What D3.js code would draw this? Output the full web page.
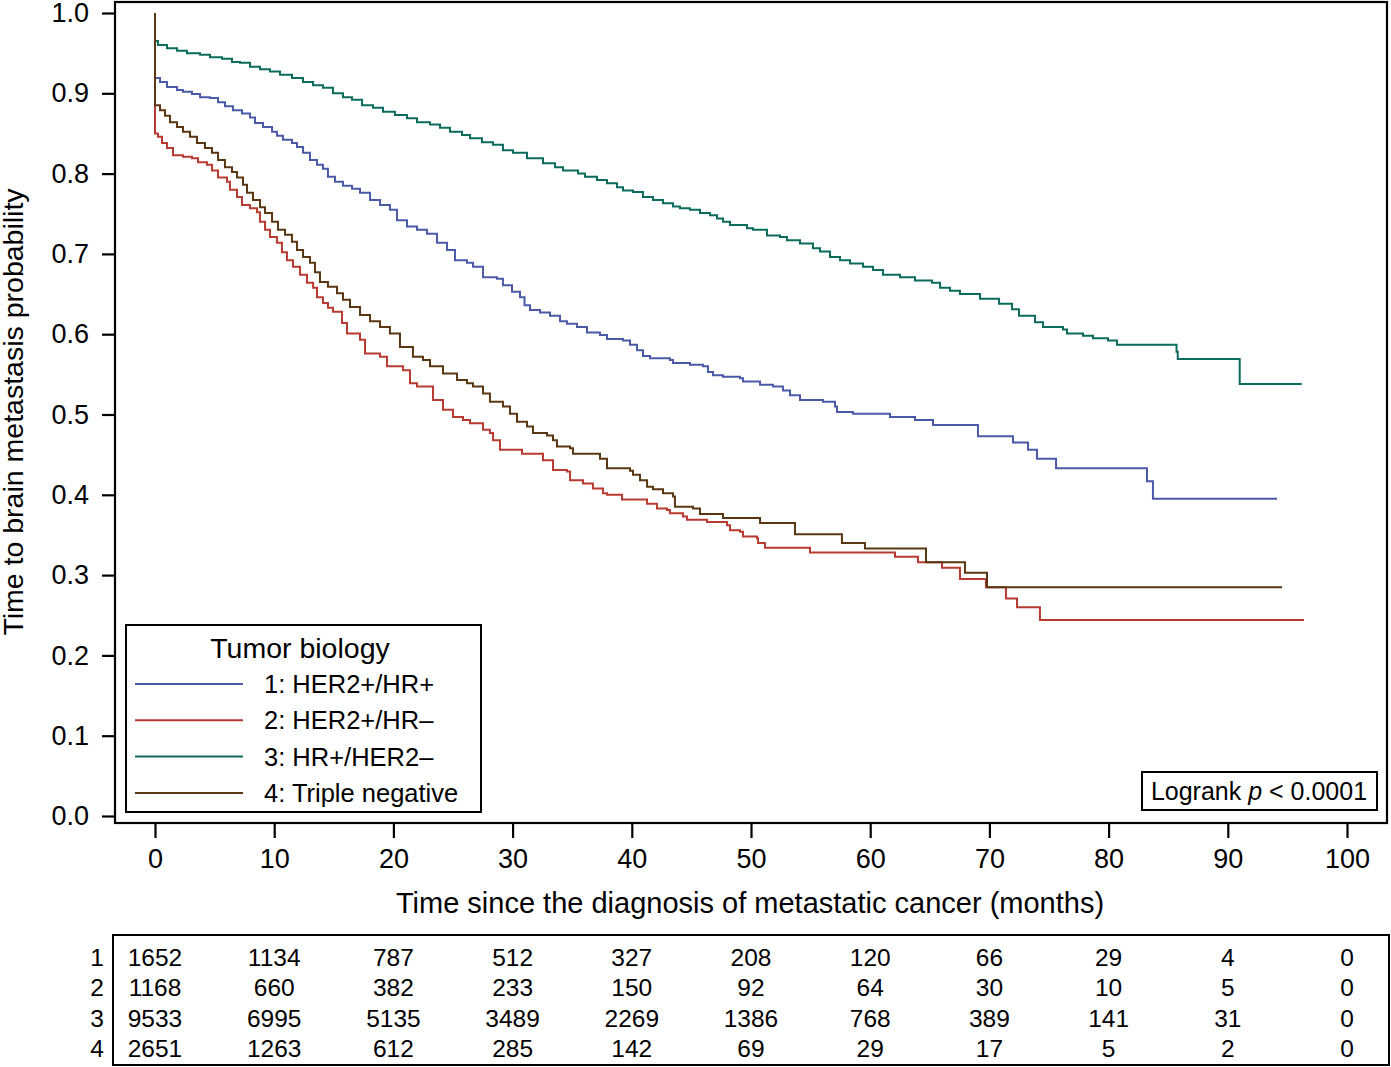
<!DOCTYPE html>
<html><head><meta charset="utf-8">
<script src="https://cdn.jsdelivr.net/npm/d3@7"></script>
<style>body{margin:0;background:#fff;} text{font-family:"Liberation Sans",Arial,Helvetica,sans-serif;}</style>
</head><body>
<svg id="c" width="1391" height="1067"></svg>
<script>
const xTicks = [0,10,20,30,40,50,60,70,80,90,100];
const yTicks = [0,0.1,0.2,0.3,0.4,0.5,0.6,0.7,0.8,0.9,1.0];
const seriesNames = ["1: HER2+/HR+","2: HER2+/HR\u2013","3: HR+/HER2\u2013","4: Triple negative"];
const seriesColors = ["#4a5aa8","#b83a30","#0b6b5c","#5a3712"];

const her2hrPos = [[0,1],[0,0.919],[0.42,0.914],[1.01,0.908],[1.85,0.904],[2.35,0.902],[3.10,0.899],[3.78,0.895],[4.61,0.894],[5.29,0.889],[5.87,0.884],[6.54,0.879],[7.30,0.875],[7.97,0.870],[8.39,0.863],[9.06,0.858],[9.82,0.852],[10.23,0.847],[10.74,0.842],[11.49,0.838],[11.91,0.833],[12.42,0.826],[13.00,0.817],[13.59,0.811],[14.09,0.806],[14.51,0.796],[15.10,0.790],[15.77,0.785],[16.53,0.781],[17.20,0.776],[18.04,0.767],[18.88,0.761],[19.71,0.755],[20.30,0.742],[21.14,0.734],[21.98,0.730],[22.82,0.725],[23.66,0.714],[24.50,0.705],[25.17,0.692],[26.17,0.689],[26.68,0.684],[27.52,0.671],[28.69,0.669],[29.19,0.661],[29.95,0.653],[30.62,0.646],[31.00,0.636],[31.46,0.630],[32.30,0.627],[33.14,0.623],[33.98,0.616],[34.56,0.613],[35.40,0.609],[36.24,0.602],[37.33,0.599],[37.92,0.594],[39.26,0.592],[39.85,0.587],[40.44,0.580],[40.94,0.573],[41.53,0.570],[43.20,0.568],[43.46,0.564],[44.88,0.562],[45.97,0.560],[46.39,0.553],[46.81,0.549],[47.65,0.547],[49.08,0.545],[49.33,0.541],[50.76,0.537],[51.85,0.535],[52.68,0.530],[53.27,0.524],[54.11,0.518],[56.04,0.516],[57.05,0.510],[57.21,0.503],[58.56,0.501],[61.66,0.497],[63.76,0.493],[65.27,0.487],[69.04,0.473],[71.98,0.465],[73.24,0.456],[73.99,0.445],[75.59,0.433],[83.22,0.417],[83.72,0.395],[94.13,0.395]];
const her2hrNeg = [[0,1],[0,0.850],[0.25,0.846],[0.59,0.838],[1.01,0.832],[1.51,0.823],[2.35,0.821],[3.10,0.819],[3.61,0.814],[4.36,0.811],[4.78,0.804],[5.29,0.795],[6.04,0.790],[6.29,0.780],[6.88,0.771],[7.30,0.761],[7.97,0.757],[8.56,0.752],[8.81,0.740],[9.23,0.730],[9.65,0.721],[10.23,0.714],[10.65,0.702],[11.07,0.692],[11.58,0.684],[12.16,0.674],[12.75,0.664],[13.26,0.658],[13.59,0.646],[14.09,0.639],[14.51,0.633],[14.93,0.628],[15.69,0.614],[16.11,0.601],[17.20,0.593],[17.62,0.576],[18.88,0.572],[19.46,0.560],[20.81,0.555],[21.39,0.539],[21.98,0.535],[23.32,0.518],[24.16,0.506],[25.00,0.497],[25.84,0.493],[26.43,0.489],[27.52,0.481],[28.10,0.477],[28.36,0.468],[28.94,0.456],[30.79,0.451],[32.55,0.443],[33.39,0.431],[34.56,0.429],[34.82,0.418],[35.91,0.414],[36.74,0.408],[37.58,0.402],[37.92,0.400],[39.18,0.394],[41.28,0.389],[42.11,0.383],[42.95,0.381],[43.20,0.377],[44.30,0.373],[44.63,0.369],[46.31,0.366],[47.99,0.362],[48.24,0.356],[49.08,0.354],[49.33,0.348],[50.50,0.346],[50.59,0.340],[51.17,0.334],[54.95,0.328],[62.08,0.323],[64.01,0.316],[66.02,0.309],[67.53,0.295],[69.71,0.285],[71.39,0.271],[72.32,0.260],[74.24,0.244],[96.39,0.244]];
const hrPosHer2Neg = [[0,1],[0,0.965],[0.25,0.960],[1.01,0.956],[1.85,0.953],[2.68,0.950],[3.78,0.948],[4.61,0.945],[5.62,0.943],[6.46,0.939],[7.13,0.938],[7.97,0.933],[8.81,0.930],[9.65,0.927],[10.49,0.923],[11.49,0.919],[12.42,0.914],[13.26,0.910],[14.09,0.907],[14.93,0.900],[15.77,0.895],[16.53,0.892],[17.37,0.885],[18.29,0.882],[19.13,0.877],[20.13,0.873],[21.14,0.869],[21.98,0.864],[23.07,0.861],[23.91,0.857],[24.75,0.852],[25.76,0.848],[26.43,0.844],[27.43,0.839],[28.36,0.836],[29.19,0.829],[30.03,0.826],[31.21,0.819],[32.55,0.813],[33.56,0.808],[34.23,0.804],[35.49,0.800],[36.07,0.796],[37.08,0.792],[37.92,0.788],[38.76,0.783],[39.26,0.779],[40.10,0.777],[40.94,0.771],[41.78,0.767],[42.62,0.763],[43.46,0.759],[44.04,0.757],[44.88,0.755],[45.72,0.751],[46.56,0.748],[47.15,0.744],[47.65,0.740],[48.24,0.736],[49.66,0.732],[50.17,0.730],[51.34,0.723],[52.43,0.721],[53.02,0.717],[54.11,0.713],[55.20,0.707],[55.79,0.703],[56.63,0.696],[57.47,0.692],[58.31,0.688],[59.40,0.684],[60.23,0.680],[61.07,0.674],[62.50,0.671],[63.76,0.667],[65.18,0.664],[65.86,0.658],[66.69,0.654],[67.53,0.650],[69.21,0.644],[70.81,0.638],[71.90,0.631],[72.48,0.623],[73.83,0.615],[74.50,0.609],[76.17,0.606],[76.51,0.601],[77.85,0.598],[78.69,0.595],[79.95,0.592],[80.70,0.587],[85.70,0.578],[85.80,0.569],[91.0,0.538],[96.2,0.538]];
const tripleNeg = [[0,1],[0,0.885],[0.42,0.879],[0.84,0.872],[1.26,0.864],[1.85,0.858],[2.35,0.852],[2.94,0.846],[3.52,0.838],[4.19,0.832],[4.78,0.826],[5.29,0.817],[5.87,0.808],[6.46,0.802],[6.88,0.795],[7.38,0.786],[7.72,0.776],[8.22,0.767],[8.81,0.758],[9.23,0.751],[9.82,0.740],[10.32,0.730],[10.91,0.724],[11.49,0.715],[11.91,0.705],[12.42,0.696],[13.00,0.689],[13.42,0.677],[13.84,0.665],[14.51,0.659],[15.27,0.651],[15.77,0.643],[16.36,0.634],[17.20,0.624],[18.04,0.616],[18.88,0.609],[19.71,0.601],[20.55,0.584],[21.64,0.572],[22.48,0.568],[23.07,0.560],[24.16,0.551],[25.34,0.543],[26.17,0.539],[26.68,0.535],[27.52,0.526],[28.10,0.516],[29.19,0.510],[29.78,0.501],[30.37,0.491],[31.21,0.485],[31.71,0.477],[32.89,0.474],[33.39,0.468],[33.72,0.460],[34.82,0.458],[35.07,0.451],[37.33,0.445],[37.92,0.433],[39.85,0.430],[40.10,0.425],[40.69,0.418],[41.28,0.410],[41.78,0.407],[42.62,0.402],[43.46,0.398],[43.62,0.385],[45.13,0.383],[45.72,0.376],[47.65,0.371],[50.76,0.365],[53.69,0.351],[57.63,0.340],[59.56,0.333],[64.68,0.316],[67.95,0.303],[69.80,0.285],[94.55,0.285]];

const riskRows = ["1","2","3","4"];
const risk1 = [1652,1134,787,512,327,208,120,66,29,4,0];
const risk2 = [1168,660,382,233,150,92,64,30,10,5,0];
const risk3 = [9533,6995,5135,3489,2269,1386,768,389,141,31,0];
const risk4 = [2651,1263,612,285,142,69,29,17,5,2,0];

const svg = d3.select("#c");
const x = d3.scaleLinear().domain([0,100]).range([155,1347]);
const y = d3.scaleLinear().domain([0,1]).range([816,13]);

// frame
svg.append("rect").attr("x",115).attr("y",2).attr("width",1272).attr("height",821)
  .attr("fill","none").attr("stroke","#000").attr("stroke-width",2.2);

// axes
const yAx = svg.append("g").attr("transform","translate(115,0)")
  .call(d3.axisLeft(y).tickValues(yTicks).tickFormat(d3.format(".1f")).tickSize(13).tickPadding(13));
yAx.select(".domain").remove();
yAx.selectAll("line").attr("stroke-width",2.2);
yAx.selectAll("text").attr("font-size",27).attr("fill","#000").style("font-family","'Liberation Sans',Arial,sans-serif");

const xAx = svg.append("g").attr("transform","translate(0,823)")
  .call(d3.axisBottom(x).tickValues(xTicks).tickFormat(d3.format("d")).tickSize(15).tickPadding(11));
xAx.select(".domain").remove();
xAx.selectAll("line").attr("stroke-width",2.2);
xAx.selectAll("text").attr("font-size",27).attr("fill","#000").style("font-family","'Liberation Sans',Arial,sans-serif");

svg.append("text").attr("x",750).attr("y",913).attr("text-anchor","middle").attr("font-size",29)
  .text("Time since the diagnosis of metastatic cancer (months)");
svg.append("text").attr("transform","translate(23,412) rotate(-90)").attr("text-anchor","middle").attr("font-size",28.5)
  .text("Time to brain metastasis probability");

// curves
const line = d3.line().x(d=>x(d[0])).y(d=>y(d[1])).curve(d3.curveStepAfter);
const allSeries = [her2hrPos, her2hrNeg, hrPosHer2Neg, tripleNeg];
allSeries.forEach((s,i)=>{
  svg.append("path").datum(s).attr("d",line).attr("fill","none")
    .attr("stroke",seriesColors[i]).attr("stroke-width",2);
});

// legend
const lg = svg.append("g");
lg.append("rect").attr("x",126).attr("y",625).attr("width",355).attr("height",187)
  .attr("fill","#fff").attr("stroke","#000").attr("stroke-width",2);
lg.append("text").attr("x",300).attr("y",658).attr("text-anchor","middle").attr("font-size",28.5).text("Tumor biology");
seriesNames.forEach((n,i)=>{
  const yy = 684 + i*36.3;
  lg.append("line").attr("x1",135).attr("x2",243).attr("y1",yy).attr("y2",yy)
    .attr("stroke",seriesColors[i]).attr("stroke-width",2);
  lg.append("text").attr("x",264).attr("y",yy+9).attr("font-size",25.5).text(n);
});

// logrank box
svg.append("rect").attr("x",1142).attr("y",772).attr("width",235).attr("height",38)
  .attr("fill","#fff").attr("stroke","#000").attr("stroke-width",2);
const lt = svg.append("text").attr("x",1259).attr("y",800).attr("text-anchor","middle").attr("font-size",25);
lt.append("tspan").text("Logrank ");
lt.append("tspan").attr("font-style","italic").text("p");
lt.append("tspan").text(" < 0.0001");

// risk table
svg.append("rect").attr("x",113).attr("y",935).attr("width",1276).attr("height",130)
  .attr("fill","none").attr("stroke","#000").attr("stroke-width",2);
const riskData = [risk1,risk2,risk3,risk4];
riskData.forEach((row,r)=>{
  const yy = 966 + r*30.3;
  svg.append("text").attr("x",104).attr("y",yy).attr("text-anchor","end").attr("font-size",24.5).text(riskRows[r]);
  row.forEach((v,c)=>{
    svg.append("text").attr("x",x(xTicks[c])).attr("y",yy).attr("text-anchor","middle")
      .attr("font-size",24.5).text(v);
  });
});
</script>
</body></html>
